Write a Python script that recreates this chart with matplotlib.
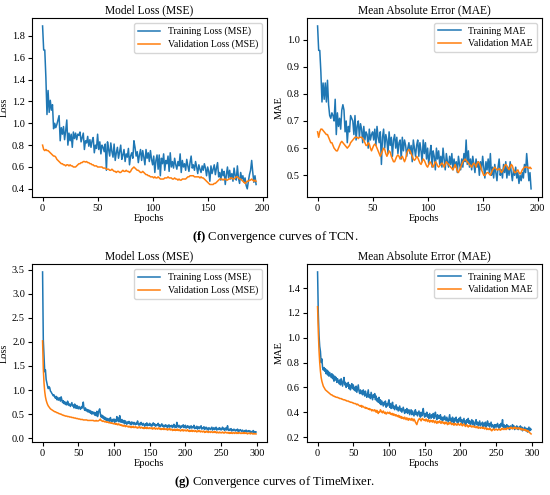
import numpy as np
import matplotlib
matplotlib.use('Agg')
import matplotlib.pyplot as plt
from matplotlib.ticker import MultipleLocator

plt.rcParams['font.family'] = ['Liberation Serif', 'DejaVu Serif']
plt.rcParams['mathtext.fontset'] = 'custom'
plt.rcParams['mathtext.rm'] = 'Liberation Serif'
plt.rcParams['mathtext.bf'] = 'Liberation Serif:bold'

# TCN (epochs 0..194)
tcn_train_loss = [
    1.89, 1.67, 1.67, 1.42, 1.08, 1.30, 1.10, 1.21, 1.12, 1.17,
    0.95, 1.00, 0.96, 0.99, 1.03, 1.07, 0.84, 0.96, 0.90, 0.97,
    0.85, 0.93, 1.03, 0.80, 0.91, 0.84, 0.90, 0.78, 0.92, 0.86,
    0.91, 0.85, 0.90, 0.89, 0.92, 0.83, 0.87, 0.91, 0.76, 0.84,
    0.82, 0.88, 0.79, 0.85, 0.78, 0.84, 0.87, 0.73, 0.80, 0.77,
    0.90, 0.76, 0.83, 0.72, 0.80, 0.78, 0.74, 0.81, 0.57, 0.83,
    0.76, 0.70, 0.82, 0.74, 0.69, 0.81, 0.66, 0.73, 0.78, 0.68,
    0.74, 0.80, 0.67, 0.71, 0.76, 0.65, 0.72, 0.69, 0.77, 0.62,
    0.70, 0.73, 0.68, 0.84, 0.78, 0.70, 0.74, 0.64, 0.71, 0.76,
    0.66, 0.75, 0.69, 0.62, 0.76, 0.68, 0.73, 0.65, 0.75, 0.67,
    0.62, 0.70, 0.55, 0.66, 0.71, 0.58, 0.71, 0.52, 0.68, 0.63,
    0.72, 0.57, 0.66, 0.63, 0.70, 0.56, 0.73, 0.60, 0.65, 0.59,
    0.68, 0.62, 0.58, 0.65, 0.61, 0.72, 0.55, 0.66, 0.60, 0.63,
    0.57, 0.67, 0.61, 0.56, 0.64, 0.70, 0.59, 0.62, 0.57, 0.65,
    0.60, 0.54, 0.62, 0.58, 0.55, 0.61, 0.57, 0.63, 0.59, 0.52,
    0.60, 0.56, 0.47, 0.61, 0.54, 0.58, 0.62, 0.53, 0.59, 0.64,
    0.51, 0.55, 0.48, 0.58, 0.52, 0.56, 0.44, 0.53, 0.60, 0.50,
    0.57, 0.49, 0.54, 0.47, 0.59, 0.52, 0.48, 0.61, 0.50, 0.45,
    0.55, 0.49, 0.52, 0.46, 0.50, 0.43, 0.40, 0.47, 0.53, 0.57,
    0.66, 0.55, 0.46, 0.52, 0.44,
]
tcn_val_loss = [
    0.80, 0.76, 0.75, 0.76, 0.75, 0.75, 0.74, 0.73, 0.72, 0.71,
    0.70, 0.70, 0.69, 0.67, 0.66, 0.65, 0.64, 0.63, 0.63, 0.62,
    0.62, 0.61, 0.62, 0.62, 0.61, 0.62, 0.61, 0.61, 0.60, 0.60,
    0.60, 0.61, 0.62, 0.63, 0.63, 0.64, 0.64, 0.65, 0.65, 0.645,
    0.65, 0.64, 0.64, 0.63, 0.63, 0.62, 0.62, 0.61, 0.61, 0.61,
    0.60, 0.60, 0.60, 0.60, 0.60, 0.59, 0.59, 0.59, 0.58, 0.58,
    0.58, 0.57, 0.57, 0.58, 0.57, 0.56, 0.56, 0.55, 0.56, 0.56,
    0.55, 0.55, 0.56, 0.57, 0.56, 0.56, 0.57, 0.56, 0.56, 0.55,
    0.56, 0.58, 0.59, 0.60, 0.59, 0.58, 0.57, 0.57, 0.56, 0.55,
    0.55, 0.56, 0.55, 0.54, 0.53, 0.53, 0.52, 0.52, 0.51, 0.51,
    0.51, 0.50, 0.51, 0.50, 0.50, 0.51, 0.50, 0.49, 0.49, 0.49,
    0.49, 0.50, 0.50, 0.50, 0.51, 0.50, 0.50, 0.50, 0.49, 0.49,
    0.50, 0.49, 0.49, 0.48, 0.49, 0.48, 0.48, 0.49, 0.49, 0.49,
    0.49, 0.50, 0.51, 0.51, 0.52, 0.52, 0.52, 0.52, 0.51, 0.51,
    0.51, 0.51, 0.51, 0.50, 0.51, 0.50, 0.50, 0.49, 0.48, 0.47,
    0.46, 0.45, 0.44, 0.44, 0.44, 0.44, 0.45, 0.45, 0.46, 0.47,
    0.48, 0.49, 0.49, 0.49, 0.48, 0.49, 0.49, 0.48, 0.48, 0.49,
    0.49, 0.50, 0.50, 0.49, 0.49, 0.50, 0.51, 0.51, 0.50, 0.49,
    0.49, 0.48, 0.47, 0.46, 0.45, 0.46, 0.47, 0.47, 0.48, 0.48,
    0.49, 0.48, 0.47, 0.48, 0.47,
]
tcn_train_mae = [
    1.05, 0.96, 0.96, 0.88, 0.77, 0.84, 0.78, 0.84, 0.77, 0.85,
    0.76, 0.72, 0.71, 0.73, 0.72, 0.70, 0.78, 0.65, 0.73, 0.68,
    0.71, 0.67, 0.74, 0.76, 0.74, 0.66, 0.70, 0.62, 0.68, 0.66,
    0.72, 0.71, 0.70, 0.65, 0.72, 0.63, 0.68, 0.70, 0.64, 0.69,
    0.67, 0.62, 0.68, 0.63, 0.66, 0.65, 0.60, 0.67, 0.63, 0.65,
    0.66, 0.63, 0.67, 0.61, 0.68, 0.64, 0.62, 0.66, 0.54, 0.64,
    0.67, 0.60, 0.65, 0.63, 0.58, 0.66, 0.61, 0.64, 0.57, 0.63,
    0.65, 0.60, 0.64, 0.58, 0.62, 0.63, 0.56, 0.64, 0.59, 0.63,
    0.61, 0.57, 0.60, 0.62, 0.58, 0.61, 0.55, 0.63, 0.60, 0.57,
    0.61, 0.63, 0.57, 0.62, 0.59, 0.55, 0.63, 0.58, 0.62, 0.56,
    0.60, 0.54, 0.58, 0.61, 0.53, 0.59, 0.57, 0.52, 0.60, 0.56,
    0.59, 0.54, 0.57, 0.53, 0.60, 0.56, 0.52, 0.58, 0.55, 0.53,
    0.57, 0.54, 0.58, 0.52, 0.56, 0.53, 0.55, 0.51, 0.57, 0.54,
    0.52, 0.56, 0.53, 0.58, 0.55, 0.63, 0.54, 0.59, 0.53, 0.56,
    0.52, 0.57, 0.54, 0.51, 0.56, 0.53, 0.55, 0.50, 0.55, 0.52,
    0.57, 0.53, 0.49, 0.55, 0.52, 0.56, 0.51, 0.58, 0.50, 0.53,
    0.49, 0.54, 0.51, 0.48, 0.53, 0.56, 0.50, 0.52, 0.49, 0.54,
    0.51, 0.55, 0.49, 0.53, 0.50, 0.55, 0.51, 0.48, 0.52, 0.50,
    0.53, 0.49, 0.51, 0.47, 0.50, 0.48, 0.51, 0.49, 0.54, 0.51,
    0.58, 0.53, 0.48, 0.51, 0.45,
]
tcn_val_mae = [
    0.66, 0.64, 0.66, 0.67, 0.67, 0.665, 0.66, 0.655, 0.65, 0.65,
    0.64, 0.63, 0.62, 0.62, 0.61, 0.60, 0.595, 0.59, 0.59, 0.60,
    0.61, 0.62, 0.625, 0.62, 0.615, 0.61, 0.605, 0.60, 0.605, 0.61,
    0.62, 0.625, 0.63, 0.635, 0.64, 0.64, 0.64, 0.635, 0.64, 0.64,
    0.64, 0.635, 0.63, 0.62, 0.61, 0.61, 0.62, 0.615, 0.60, 0.59,
    0.60, 0.61, 0.615, 0.61, 0.60, 0.59, 0.58, 0.57, 0.58, 0.59,
    0.60, 0.595, 0.58, 0.57, 0.58, 0.59, 0.585, 0.57, 0.56, 0.55,
    0.55, 0.56, 0.57, 0.575, 0.57, 0.56, 0.565, 0.57, 0.56, 0.55,
    0.56, 0.58, 0.59, 0.595, 0.59, 0.58, 0.57, 0.56, 0.555, 0.56,
    0.57, 0.565, 0.555, 0.545, 0.54, 0.55, 0.56, 0.555, 0.545, 0.535,
    0.53, 0.54, 0.55, 0.545, 0.535, 0.53, 0.54, 0.55, 0.545, 0.535,
    0.53, 0.535, 0.54, 0.545, 0.54, 0.53, 0.54, 0.55, 0.545, 0.54,
    0.535, 0.53, 0.525, 0.52, 0.53, 0.54, 0.53, 0.515, 0.51, 0.52,
    0.53, 0.54, 0.55, 0.555, 0.56, 0.555, 0.55, 0.545, 0.54, 0.535,
    0.53, 0.54, 0.545, 0.54, 0.53, 0.545, 0.55, 0.545, 0.535, 0.52,
    0.51, 0.50, 0.50, 0.505, 0.51, 0.51, 0.505, 0.50, 0.51, 0.52,
    0.525, 0.53, 0.525, 0.52, 0.52, 0.525, 0.52, 0.51, 0.515, 0.525,
    0.535, 0.54, 0.535, 0.525, 0.52, 0.53, 0.54, 0.535, 0.52, 0.51,
    0.51, 0.515, 0.52, 0.51, 0.505, 0.51, 0.52, 0.525, 0.53, 0.53,
    0.53, 0.53, 0.525, 0.53, 0.525,
]

# TimeMixer (epochs 0..299)
tm_train_loss = [
    3.45, 2.05, 1.70, 1.38, 1.42, 1.22, 1.15, 1.08, 1.03, 1.07,
    1.05, 0.98, 0.96, 0.93, 0.91, 0.88, 0.90, 0.86, 0.83, 0.87,
    0.80, 0.85, 0.79, 0.82, 0.84, 0.77, 0.86, 0.80, 0.74, 0.78,
    0.72, 0.76, 0.70, 0.74, 0.69, 0.77, 0.73, 0.68, 0.71, 0.66,
    0.70, 0.74, 0.67, 0.69, 0.63, 0.71, 0.66, 0.62, 0.68, 0.64,
    0.61, 0.66, 0.63, 0.60, 0.65, 0.62, 0.68, 0.75, 0.62, 0.58,
    0.63, 0.57, 0.60, 0.55, 0.59, 0.54, 0.58, 0.52, 0.56, 0.50,
    0.55, 0.51, 0.54, 0.48, 0.53, 0.47, 0.56, 0.45, 0.51, 0.58,
    0.61, 0.50, 0.44, 0.48, 0.42, 0.46, 0.40, 0.44, 0.38, 0.42,
    0.37, 0.41, 0.36, 0.40, 0.35, 0.43, 0.37, 0.34, 0.39, 0.36,
    0.40, 0.33, 0.38, 0.35, 0.45, 0.36, 0.42, 0.34, 0.47, 0.37,
    0.33, 0.39, 0.35, 0.32, 0.37, 0.30, 0.36, 0.33, 0.29, 0.34,
    0.31, 0.35, 0.30, 0.33, 0.28, 0.34, 0.31, 0.29, 0.33, 0.30,
    0.28, 0.32, 0.29, 0.36, 0.30, 0.27, 0.31, 0.28, 0.33, 0.29,
    0.27, 0.31, 0.28, 0.25, 0.30, 0.27, 0.32, 0.26, 0.29, 0.27,
    0.31, 0.26, 0.29, 0.25, 0.28, 0.32, 0.27, 0.30, 0.25, 0.28,
    0.26, 0.29, 0.31, 0.25, 0.28, 0.24, 0.27, 0.30, 0.25, 0.27,
    0.23, 0.26, 0.28, 0.24, 0.27, 0.22, 0.25, 0.28, 0.23, 0.26,
    0.24, 0.27, 0.22, 0.25, 0.29, 0.23, 0.26, 0.22, 0.33, 0.25,
    0.23, 0.27, 0.24, 0.21, 0.26, 0.23, 0.25, 0.28, 0.22, 0.24,
    0.27, 0.21, 0.24, 0.26, 0.22, 0.25, 0.20, 0.23, 0.26, 0.21,
    0.24, 0.22, 0.27, 0.20, 0.23, 0.21, 0.25, 0.19, 0.22, 0.24,
    0.20, 0.23, 0.26, 0.19, 0.22, 0.20, 0.24, 0.18, 0.21, 0.23,
    0.19, 0.21, 0.17, 0.22, 0.20, 0.18, 0.21, 0.23, 0.17, 0.20,
    0.22, 0.18, 0.20, 0.23, 0.17, 0.19, 0.21, 0.18, 0.22, 0.19,
    0.17, 0.20, 0.23, 0.18, 0.21, 0.16, 0.19, 0.22, 0.17, 0.26,
    0.18, 0.16, 0.19, 0.17, 0.20, 0.15, 0.18, 0.16, 0.19, 0.17,
    0.15, 0.18, 0.16, 0.19, 0.14, 0.17, 0.15, 0.18, 0.16, 0.14,
    0.17, 0.15, 0.13, 0.16, 0.14, 0.17, 0.13, 0.15, 0.14, 0.16,
    0.13, 0.15, 0.12, 0.14, 0.13, 0.16, 0.12, 0.14, 0.12, 0.13,
]
tm_val_loss = [
    2.02, 1.45, 1.15, 0.97, 0.86, 0.79, 0.74, 0.70, 0.67, 0.65,
    0.63, 0.61, 0.60, 0.59, 0.58, 0.57, 0.56, 0.55, 0.55, 0.54,
    0.53, 0.53, 0.52, 0.51, 0.51, 0.50, 0.50, 0.49, 0.48, 0.48,
    0.47, 0.47, 0.46, 0.46, 0.46, 0.45, 0.45, 0.45, 0.44, 0.44,
    0.44, 0.43, 0.43, 0.43, 0.42, 0.42, 0.42, 0.41, 0.41, 0.41,
    0.40, 0.40, 0.40, 0.39, 0.39, 0.39, 0.39, 0.38, 0.38, 0.38,
    0.38, 0.38, 0.38, 0.37, 0.37, 0.37, 0.37, 0.37, 0.37, 0.37,
    0.37, 0.37, 0.36, 0.36, 0.36, 0.37, 0.36, 0.36, 0.36, 0.37,
    0.38, 0.40, 0.37, 0.36, 0.35, 0.36, 0.35, 0.34, 0.35, 0.34,
    0.33, 0.34, 0.33, 0.32, 0.33, 0.32, 0.31, 0.32, 0.31, 0.30,
    0.31, 0.30, 0.29, 0.31, 0.29, 0.28, 0.30, 0.28, 0.29, 0.27,
    0.28, 0.26, 0.27, 0.25, 0.27, 0.26, 0.24, 0.26, 0.25, 0.24,
    0.25, 0.23, 0.25, 0.24, 0.22, 0.24, 0.23, 0.25, 0.22, 0.23,
    0.24, 0.22, 0.23, 0.21, 0.23, 0.22, 0.24, 0.21, 0.22, 0.23,
    0.21, 0.22, 0.20, 0.22, 0.21, 0.23, 0.20, 0.22, 0.21, 0.20,
    0.22, 0.21, 0.20, 0.22, 0.19, 0.21, 0.20, 0.22, 0.19, 0.20,
    0.21, 0.19, 0.20, 0.22, 0.19, 0.20, 0.18, 0.20, 0.19, 0.21,
    0.18, 0.20, 0.19, 0.18, 0.20, 0.17, 0.19, 0.18, 0.20, 0.17,
    0.19, 0.18, 0.16, 0.18, 0.17, 0.19, 0.16, 0.18, 0.17, 0.19,
    0.16, 0.18, 0.17, 0.15, 0.17, 0.16, 0.18, 0.15, 0.17, 0.16,
    0.17, 0.15, 0.16, 0.18, 0.15, 0.16, 0.14, 0.16, 0.15, 0.17,
    0.14, 0.16, 0.15, 0.14, 0.16, 0.15, 0.13, 0.15, 0.14, 0.16,
    0.15, 0.13, 0.15, 0.14, 0.13, 0.15, 0.14, 0.12, 0.14, 0.13,
    0.15, 0.13, 0.12, 0.14, 0.13, 0.12, 0.14, 0.13, 0.12, 0.13,
    0.12, 0.14, 0.12, 0.13, 0.11, 0.13, 0.12, 0.11, 0.13, 0.12,
    0.11, 0.12, 0.13, 0.11, 0.12, 0.11, 0.13, 0.12, 0.11, 0.12,
    0.11, 0.12, 0.10, 0.12, 0.11, 0.12, 0.10, 0.11, 0.12, 0.10,
    0.11, 0.12, 0.10, 0.11, 0.10, 0.12, 0.11, 0.10, 0.11, 0.10,
    0.11, 0.10, 0.12, 0.10, 0.11, 0.10, 0.11, 0.09, 0.10, 0.11,
    0.10, 0.09, 0.11, 0.10, 0.09, 0.10, 0.09, 0.10, 0.09, 0.09,
]
tm_train_mae = [
    1.53, 1.20, 1.02, 0.93, 0.89, 0.80, 0.83, 0.76, 0.74, 0.76,
    0.73, 0.75, 0.71, 0.74, 0.70, 0.73, 0.69, 0.72, 0.70, 0.68,
    0.71, 0.67, 0.70, 0.65, 0.69, 0.66, 0.68, 0.64, 0.67, 0.65,
    0.63, 0.66, 0.62, 0.67, 0.64, 0.61, 0.65, 0.68, 0.62, 0.64,
    0.60, 0.63, 0.61, 0.64, 0.59, 0.62, 0.58, 0.61, 0.63, 0.59,
    0.62, 0.58, 0.60, 0.57, 0.61, 0.56, 0.59, 0.62, 0.57, 0.55,
    0.58, 0.55, 0.57, 0.54, 0.58, 0.56, 0.53, 0.57, 0.54, 0.52,
    0.55, 0.58, 0.52, 0.54, 0.51, 0.56, 0.53, 0.50, 0.54, 0.52,
    0.55, 0.50, 0.53, 0.49, 0.51, 0.48, 0.52, 0.47, 0.50, 0.46,
    0.49, 0.47, 0.45, 0.48, 0.46, 0.49, 0.44, 0.47, 0.45, 0.48,
    0.50, 0.44, 0.47, 0.43, 0.46, 0.48, 0.43, 0.45, 0.42, 0.44,
    0.46, 0.42, 0.44, 0.41, 0.43, 0.45, 0.41, 0.43, 0.40, 0.42,
    0.44, 0.41, 0.39, 0.42, 0.40, 0.43, 0.39, 0.41, 0.42, 0.38,
    0.40, 0.42, 0.38, 0.41, 0.39, 0.37, 0.40, 0.42, 0.38, 0.40,
    0.37, 0.39, 0.41, 0.38, 0.36, 0.40, 0.37, 0.39, 0.43, 0.38,
    0.36, 0.39, 0.37, 0.40, 0.36, 0.38, 0.35, 0.39, 0.37, 0.35,
    0.38, 0.36, 0.39, 0.35, 0.37, 0.40, 0.36, 0.34, 0.38, 0.35,
    0.37, 0.35, 0.38, 0.34, 0.36, 0.33, 0.36, 0.34, 0.37, 0.35,
    0.33, 0.36, 0.34, 0.32, 0.35, 0.38, 0.33, 0.35, 0.32, 0.36,
    0.34, 0.31, 0.35, 0.33, 0.36, 0.32, 0.34, 0.31, 0.35, 0.33,
    0.36, 0.32, 0.34, 0.31, 0.33, 0.35, 0.31, 0.33, 0.30, 0.34,
    0.32, 0.35, 0.31, 0.33, 0.30, 0.32, 0.34, 0.30, 0.33, 0.31,
    0.29, 0.32, 0.34, 0.30, 0.32, 0.29, 0.31, 0.33, 0.29, 0.31,
    0.30, 0.32, 0.28, 0.31, 0.29, 0.32, 0.28, 0.30, 0.33, 0.29,
    0.31, 0.28, 0.30, 0.32, 0.28, 0.30, 0.29, 0.27, 0.30, 0.28,
    0.30, 0.28, 0.31, 0.29, 0.27, 0.30, 0.28, 0.31, 0.29, 0.34,
    0.28, 0.30, 0.27, 0.29, 0.28, 0.30, 0.27, 0.29, 0.28, 0.26,
    0.29, 0.27, 0.28, 0.30, 0.27, 0.29, 0.26, 0.28, 0.27, 0.29,
    0.27, 0.26, 0.28, 0.27, 0.29, 0.26, 0.28, 0.25, 0.27, 0.26,
    0.28, 0.26, 0.25, 0.27, 0.24, 0.26, 0.28, 0.25, 0.27, 0.26,
]
tm_val_mae = [
    1.25, 1.05, 0.90, 0.80, 0.73, 0.68, 0.65, 0.63, 0.61, 0.60,
    0.59, 0.58, 0.575, 0.57, 0.565, 0.56, 0.555, 0.55, 0.545, 0.54,
    0.54, 0.535, 0.53, 0.53, 0.525, 0.525, 0.52, 0.52, 0.52, 0.515,
    0.515, 0.51, 0.51, 0.51, 0.505, 0.505, 0.50, 0.50, 0.50, 0.495,
    0.495, 0.49, 0.49, 0.49, 0.485, 0.485, 0.48, 0.48, 0.48, 0.475,
    0.475, 0.47, 0.47, 0.47, 0.465, 0.46, 0.465, 0.46, 0.455, 0.45,
    0.45, 0.455, 0.44, 0.45, 0.445, 0.44, 0.435, 0.44, 0.43, 0.435,
    0.43, 0.425, 0.43, 0.42, 0.425, 0.42, 0.41, 0.42, 0.415, 0.41,
    0.42, 0.41, 0.40, 0.415, 0.40, 0.39, 0.405, 0.40, 0.42, 0.41,
    0.40, 0.395, 0.41, 0.40, 0.39, 0.40, 0.385, 0.39, 0.40, 0.395,
    0.39, 0.40, 0.385, 0.39, 0.38, 0.39, 0.375, 0.385, 0.38, 0.37,
    0.38, 0.37, 0.365, 0.375, 0.36, 0.37, 0.355, 0.365, 0.35, 0.36,
    0.355, 0.345, 0.36, 0.35, 0.34, 0.355, 0.345, 0.335, 0.35, 0.34,
    0.345, 0.335, 0.35, 0.34, 0.33, 0.345, 0.335, 0.32, 0.31, 0.30,
    0.32, 0.335, 0.345, 0.35, 0.34, 0.33, 0.345, 0.35, 0.34, 0.335,
    0.34, 0.33, 0.345, 0.335, 0.325, 0.34, 0.33, 0.32, 0.335, 0.325,
    0.33, 0.32, 0.335, 0.325, 0.315, 0.33, 0.32, 0.31, 0.325, 0.315,
    0.32, 0.33, 0.315, 0.31, 0.325, 0.32, 0.31, 0.32, 0.305, 0.315,
    0.32, 0.31, 0.30, 0.315, 0.305, 0.31, 0.32, 0.305, 0.30, 0.31,
    0.305, 0.295, 0.31, 0.30, 0.305, 0.295, 0.30, 0.31, 0.30, 0.295,
    0.30, 0.31, 0.295, 0.29, 0.30, 0.305, 0.295, 0.285, 0.29, 0.30,
    0.29, 0.28, 0.29, 0.295, 0.285, 0.29, 0.28, 0.285, 0.29, 0.28,
    0.285, 0.28, 0.275, 0.285, 0.28, 0.27, 0.28, 0.275, 0.27, 0.28,
    0.275, 0.27, 0.28, 0.27, 0.265, 0.275, 0.27, 0.26, 0.27, 0.265,
    0.26, 0.27, 0.265, 0.255, 0.25, 0.26, 0.265, 0.26, 0.255, 0.26,
    0.265, 0.26, 0.255, 0.26, 0.265, 0.26, 0.255, 0.265, 0.26, 0.27,
    0.265, 0.26, 0.27, 0.265, 0.26, 0.27, 0.275, 0.265, 0.27, 0.275,
    0.27, 0.28, 0.27, 0.265, 0.275, 0.27, 0.28, 0.27, 0.265, 0.275,
    0.27, 0.265, 0.275, 0.27, 0.26, 0.27, 0.265, 0.255, 0.265, 0.26,
    0.255, 0.26, 0.25, 0.255, 0.245, 0.25, 0.24, 0.235, 0.23, 0.225,
]

tcn_epochs = np.arange(len(tcn_train_loss))
tm_epochs = np.arange(len(tm_train_loss))

fig = plt.figure(figsize=(5.5, 4.95), dpi=100)

panels = [
    # (axes rect, epochs, train, val, title, ylabel, train label, val label, ystep)
    ([0.058, 0.602, 0.427, 0.362], tcn_epochs, tcn_train_loss, tcn_val_loss,
     'Model Loss (MSE)', 'Loss', 'Training Loss (MSE)', 'Validation Loss (MSE)', 0.2),
    ([0.558, 0.602, 0.427, 0.362], tcn_epochs, tcn_train_mae, tcn_val_mae,
     'Mean Absolute Error (MAE)', 'MAE', 'Training MAE', 'Validation MAE', 0.1),
    ([0.058, 0.107, 0.427, 0.36], tm_epochs, tm_train_loss, tm_val_loss,
     'Model Loss (MSE)', 'Loss', 'Training Loss (MSE)', 'Validation Loss (MSE)', 0.5),
    ([0.558, 0.107, 0.427, 0.36], tm_epochs, tm_train_mae, tm_val_mae,
     'Mean Absolute Error (MAE)', 'MAE', 'Training MAE', 'Validation MAE', 0.2),
]

for rect, ep, tr, va, title, ylab, trlab, valab, ystep in panels:
    ax = fig.add_axes(rect)
    ax.plot(ep, tr, color='tab:blue', lw=1.1, label=trlab)
    ax.plot(ep, va, color='tab:orange', lw=1.1, label=valab)
    ax.yaxis.set_major_locator(MultipleLocator(ystep))
    ax.xaxis.set_major_locator(MultipleLocator(50))
    ax.set_title(title, fontsize=8.3, pad=3)
    ax.set_xlabel('Epochs', fontsize=7.5, labelpad=1)
    ax.set_ylabel(ylab, fontsize=7.5, labelpad=2)
    ax.tick_params(labelsize=7.5, length=3, pad=2)
    ax.legend(loc='upper right', fontsize=7, handlelength=2.3, borderpad=0.4,
              labelspacing=0.35, handletextpad=0.8)

fig.text(0.5, 0.521, r'$\mathbf{(f)}$ Convergence curves of TCN.', ha='center',
         va='center', fontsize=9.2)
fig.text(0.5, 0.026, r'$\mathbf{(g)}$ Convergence curves of TimeMixer.', ha='center',
         va='center', fontsize=9.2)

fig.savefig('out.png', dpi=100)
